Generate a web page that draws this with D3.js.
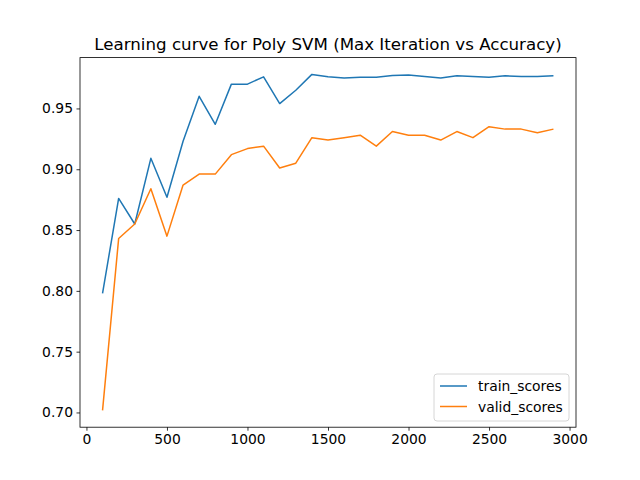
<!DOCTYPE html>
<html lang="en">
<head>
<meta charset="UTF-8">
<title>Learning curve</title>
<script src="https://d3js.org/d3.v7.min.js"></script>
<style>
    body { margin: 0; background: #fff; }
    text { font-family: "DejaVu Sans", sans-serif; }
</style>
</head>
<body>
<svg id="svg" width="640" height="480"></svg>
<script>

// max iterations
let iterations = [100, 200, 300, 400, 500, 600, 700, 800, 900, 1000,
    1100, 1200, 1300, 1400, 1500, 1600, 1700, 1800, 1900, 2000,
    2100, 2200, 2300, 2400, 2500, 2600, 2700, 2800, 2900];

let trainScores = [0.798, 0.876, 0.855, 0.909, 0.877, 0.923, 0.960, 0.937, 0.970, 0.970,
    0.976, 0.954, 0.965, 0.978, 0.976, 0.975, 0.9757, 0.9757, 0.977, 0.9775,
    0.9763, 0.975, 0.9768, 0.9763, 0.9757, 0.9768, 0.9763, 0.9763, 0.9768];

let validScores = [0.7017, 0.843, 0.855, 0.884, 0.845, 0.887, 0.896, 0.896, 0.912, 0.917,
    0.919, 0.901, 0.905, 0.926, 0.924, 0.926, 0.928, 0.919, 0.931, 0.928,
    0.928, 0.924, 0.931, 0.926, 0.935, 0.933, 0.933, 0.930, 0.933];

let xTicks = [0, 500, 1000, 1500, 2000, 2500, 3000];
let yTicks = [0.70, 0.75, 0.80, 0.85, 0.90, 0.95];

let svg = d3.select('#svg');
let mLeft = 80, mRight = 576, mTop = 57.6, mBottom = 427.2;

// matplotlib style 5% margins
let xMin = d3.min(iterations), xMax = d3.max(iterations);
let xPad = (xMax - xMin) * 0.05;
let allY = trainScores.concat(validScores);
let yMin = d3.min(allY), yMax = d3.max(allY);
let yPad = (yMax - yMin) * 0.05;

let x = d3.scaleLinear().domain([xMin - xPad, xMax + xPad]).range([mLeft, mRight]);
let y = d3.scaleLinear().domain([yMin - yPad, yMax + yPad]).range([mBottom, mTop]);

let line = d3.line()
    .x((d, i) => x(iterations[i]))
    .y(d => y(d));

svg.append('path')
    .datum(trainScores)
    .attr('d', line)
    .attr('fill', 'none')
    .attr('stroke', '#1f77b4')
    .attr('stroke-width', 1.5)
    .attr('stroke-linejoin', 'round');

svg.append('path')
    .datum(validScores)
    .attr('d', line)
    .attr('fill', 'none')
    .attr('stroke', '#ff7f0e')
    .attr('stroke-width', 1.5)
    .attr('stroke-linejoin', 'round');

// axes
let xAxis = d3.axisBottom(x).tickValues(xTicks).tickSize(3.5).tickPadding(3.5).tickFormat(d3.format('d'));
let yAxis = d3.axisLeft(y).tickValues(yTicks).tickSize(3.5).tickPadding(3.5).tickFormat(d3.format('.2f'));

let gx = svg.append('g').attr('transform', `translate(0,${mBottom})`).call(xAxis);
let gy = svg.append('g').attr('transform', `translate(${mLeft},0)`).call(yAxis);

[gx, gy].forEach(g => {
    g.select('.domain').remove();
    g.selectAll('line').attr('stroke', '#000').attr('stroke-width', 0.8);
    g.selectAll('text').attr('font-size', '13.89px').attr('fill', '#000')
        .attr('font-family', 'DejaVu Sans, sans-serif');
});

// frame
svg.append('rect')
    .attr('x', mLeft).attr('y', mTop)
    .attr('width', mRight - mLeft).attr('height', mBottom - mTop)
    .attr('fill', 'none').attr('stroke', '#000').attr('stroke-width', 0.8);

// title
svg.append('text')
    .attr('x', (mLeft + mRight) / 2).attr('y', 49.5)
    .attr('text-anchor', 'middle')
    .attr('font-size', '16.67px')
    .text('Learning curve for Poly SVM (Max Iteration vs Accuracy)');

// legend
let legendNames = ['train_scores', 'valid_scores'];
let legendColors = ['#1f77b4', '#ff7f0e'];
let lg = svg.append('g').attr('transform', 'translate(434,374)');
lg.append('rect')
    .attr('width', 135).attr('height', 47)
    .attr('rx', 3).attr('fill', '#fff').attr('fill-opacity', 0.8)
    .attr('stroke', '#ccc').attr('stroke-width', 0.8);
legendNames.forEach((name, i) => {
    let yy = 12 + i * 20.5;
    lg.append('line')
        .attr('x1', 6).attr('x2', 33).attr('y1', yy).attr('y2', yy)
        .attr('stroke', legendColors[i]).attr('stroke-width', 1.5);
    lg.append('text')
        .attr('x', 44).attr('y', yy + 5)
        .attr('font-size', '13.89px')
        .text(name);
});

</script>
</body>
</html>
